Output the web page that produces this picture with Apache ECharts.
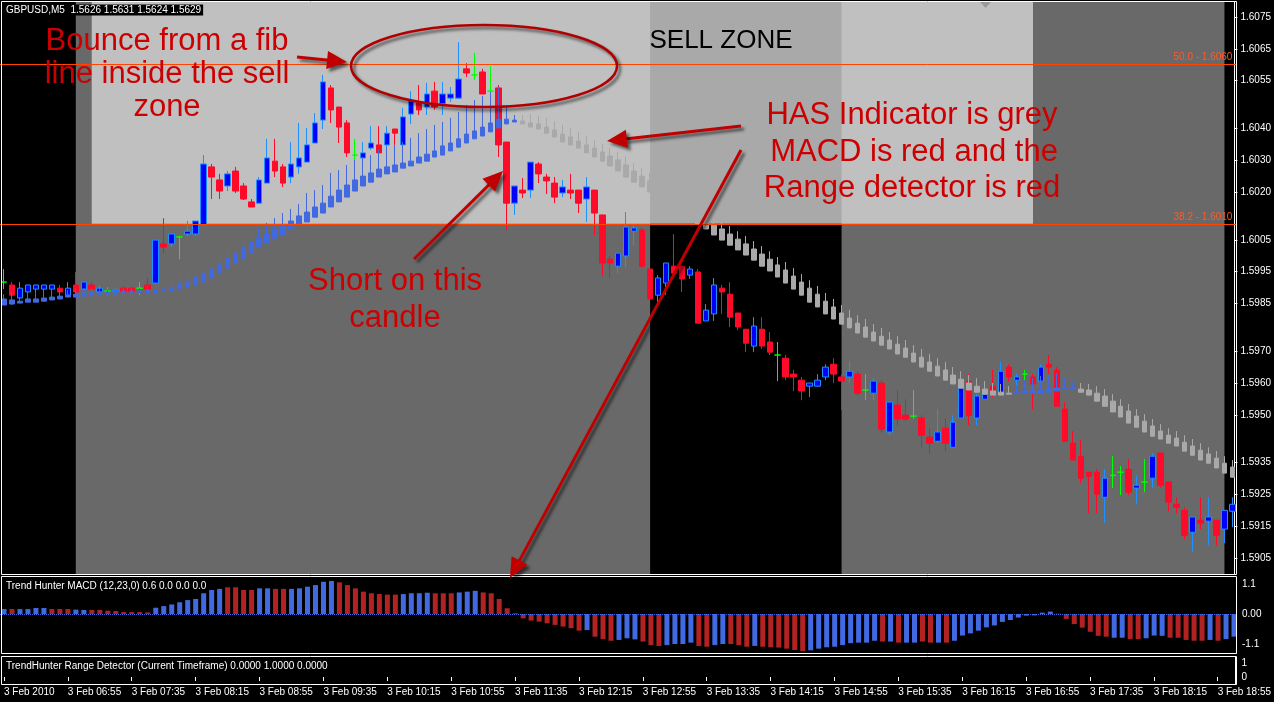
<!DOCTYPE html>
<html><head><meta charset="utf-8">
<script src="https://cdn.jsdelivr.net/npm/echarts@6/dist/echarts.min.js"></script>
<style>html,body{margin:0;padding:0;background:#000;}#c{width:1274px;height:702px;}</style>
</head><body><div id="c"></div>
<script>
// ---------- DATA ----------
const symbolTitle = 'GBPUSD,M5  1.5626 1.5631 1.5624 1.5629';
const macdTitle = 'Trend Hunter MACD (12,23,0) 0.6 0.0 0.0 0.0';
const rangeTitle = 'TrendHunter Range Detector (Current Timeframe) 0.0000 1.0000 0.0000';
const firstDateLabel = '3 Feb 2010';
const dayLabel = '3 Feb';
const firstBarMinutes = 6 * 60 + 15;   // 06:15
const barMinutes = 5;
const barCount = 155;

const priceTicks = [1.6075,1.6065,1.6055,1.6040,1.6030,1.6020,1.6005,1.5995,1.5985,1.5970,1.5960,1.5950,1.5935,1.5925,1.5915,1.5905];
const PRICE_MIN = 1.5900, PRICE_MAX = 1.60797;
const macdTicks = [1.1, 0, -1.1];
const MACD_MIN = -1.429, MACD_MAX = 1.319;
const rangeTicks = [1, 0];

const fibLevels = [1.6060, 1.6010];
const fibNames = ['50.0', '38.2'];
const sellZoneLow = 1.6010;
const sellZoneStartBar = 11, sellZoneEndBar = 129;

const candleOpen = [
1.59917,1.59908,1.59867,1.59886,1.59895,1.59895,1.59895,1.59898,1.59876,1.59908,
1.59895,1.59908,1.59886,1.59889,1.59889,1.59898,1.59898,1.59898,1.59908,1.59914,
1.60037,1.60037,1.60059,1.60068,1.60068,1.60096,1.60279,1.60238,1.60219,1.60266,
1.60219,1.60169,1.60165,1.60228,1.60297,1.60279,1.60247,1.60279,1.60294,1.60354,
1.60426,1.60527,1.60467,1.60417,1.60316,1.60307,1.60338,1.60348,1.60348,1.60398,
1.60348,1.60445,1.60480,1.60467,1.60517,1.60477,1.60495,1.60495,1.60587,1.60568,
1.60577,1.60517,1.60527,1.60357,1.60165,1.60206,1.60206,1.60288,1.60247,1.60228,
1.60197,1.60206,1.60206,1.60178,1.60206,1.60128,1.59989,1.59967,1.59999,1.60077,
1.60081,1.59958,1.59876,1.59914,1.59967,1.59967,1.59939,1.59949,1.59795,1.59817,
1.59898,1.59879,1.59820,1.59769,1.59716,1.59769,1.59729,1.59688,1.59678,1.59628,
1.59609,1.59590,1.59590,1.59619,1.59659,1.59619,1.59619,1.59628,1.59578,1.59568,
1.59600,1.59446,1.59531,1.59499,1.59496,1.59490,1.59430,1.59417,1.59458,1.59398,
1.59490,1.59606,1.59490,1.59549,1.59590,1.59571,1.59650,1.59609,1.59628,1.59619,
1.59606,1.59659,1.59641,1.59518,1.59411,1.59370,1.59320,1.59320,1.59241,1.59310,
1.59320,1.59329,1.59270,1.59289,1.59301,1.59380,1.59289,1.59219,1.59200,1.59131,
1.59169,1.59166,1.59169,1.59141,1.59197];
const candleClose = [
1.59917,1.59876,1.59898,1.59908,1.59908,1.59908,1.59908,1.59886,1.59898,1.59886,
1.59917,1.59895,1.59898,1.59889,1.59892,1.59886,1.59886,1.59898,1.59895,1.60049,
1.60027,1.60068,1.60059,1.60077,1.60109,1.60288,1.60247,1.60203,1.60257,1.60203,
1.60178,1.60153,1.60238,1.60307,1.60266,1.60228,1.60288,1.60307,1.60348,1.60417,
1.60546,1.60458,1.60404,1.60323,1.60316,1.60323,1.60354,1.60323,1.60385,1.60385,
1.60436,1.60486,1.60458,1.60508,1.60467,1.60508,1.60508,1.60555,1.60574,1.60568,
1.60508,1.60517,1.60348,1.60165,1.60219,1.60197,1.60294,1.60257,1.60235,1.60184,
1.60216,1.60197,1.60165,1.60216,1.60134,1.59977,1.59977,1.60008,1.60090,1.60087,
1.59967,1.59864,1.59930,1.59977,1.59945,1.59927,1.59958,1.59788,1.59829,1.59908,
1.59886,1.59807,1.59776,1.59725,1.59779,1.59716,1.59697,1.59688,1.59619,1.59619,
1.59575,1.59600,1.59609,1.59650,1.59628,1.59606,1.59637,1.59568,1.59578,1.59606,
1.59455,1.59540,1.59487,1.59487,1.59496,1.59436,1.59411,1.59446,1.59411,1.59477,
1.59584,1.59499,1.59559,1.59565,1.59575,1.59637,1.59619,1.59619,1.59628,1.59597,
1.59650,1.59650,1.59527,1.59417,1.59358,1.59301,1.59307,1.59251,1.59301,1.59310,
1.59320,1.59257,1.59279,1.59289,1.59370,1.59279,1.59226,1.59210,1.59122,1.59179,
1.59160,1.59179,1.59122,1.59200,1.59219];
const candleLow = [
1.59895,1.59845,1.59854,1.59857,1.59861,1.59870,1.59873,1.59870,1.59870,1.59870,
1.59892,1.59876,1.59883,1.59876,1.59883,1.59883,1.59883,1.59876,1.59883,1.59883,
1.60008,1.60027,1.59989,1.60059,1.60062,1.60096,1.60178,1.60178,1.60203,1.60197,
1.60175,1.60153,1.60165,1.60228,1.60247,1.60216,1.60228,1.60257,1.60294,1.60354,
1.60398,1.60417,1.60354,1.60310,1.60294,1.60294,1.60332,1.60323,1.60338,1.60348,
1.60348,1.60414,1.60442,1.60442,1.60458,1.60442,1.60483,1.60495,1.60561,1.60552,
1.60508,1.60508,1.60310,1.60081,1.60128,1.60181,1.60181,1.60228,1.60194,1.60165,
1.60184,1.60178,1.60134,1.60106,1.60065,1.59936,1.59930,1.59945,1.59964,1.60033,
1.59964,1.59864,1.59854,1.59876,1.59945,1.59886,1.59927,1.59788,1.59795,1.59795,
1.59817,1.59776,1.59766,1.59697,1.59697,1.59707,1.59688,1.59606,1.59609,1.59575,
1.59546,1.59556,1.59590,1.59609,1.59600,1.59515,1.59600,1.59559,1.59546,1.59546,
1.59446,1.59436,1.59468,1.59480,1.59487,1.59398,1.59377,1.59411,1.59386,1.59398,
1.59490,1.59468,1.59468,1.59549,1.59556,1.59571,1.59606,1.59571,1.59609,1.59518,
1.59606,1.59628,1.59527,1.59417,1.59358,1.59285,1.59191,1.59191,1.59160,1.59270,
1.59248,1.59248,1.59219,1.59257,1.59270,1.59270,1.59197,1.59191,1.59109,1.59069,
1.59141,1.59090,1.59090,1.59097,1.59147];
const candleHigh = [
1.59958,1.59917,1.59917,1.59908,1.59908,1.59908,1.59908,1.59908,1.59917,1.59949,
1.59917,1.59917,1.59908,1.59901,1.59898,1.59905,1.59901,1.59917,1.59930,1.60049,
1.60118,1.60068,1.60059,1.60109,1.60109,1.60316,1.60288,1.60257,1.60266,1.60279,
1.60228,1.60178,1.60247,1.60367,1.60367,1.60288,1.60357,1.60417,1.60401,1.60448,
1.60568,1.60536,1.60467,1.60426,1.60367,1.60357,1.60407,1.60407,1.60407,1.60398,
1.60464,1.60517,1.60536,1.60543,1.60546,1.60546,1.60530,1.60671,1.60605,1.60637,
1.60587,1.60596,1.60536,1.60357,1.60219,1.60244,1.60294,1.60294,1.60257,1.60247,
1.60238,1.60257,1.60206,1.60247,1.60206,1.60128,1.59999,1.60008,1.60137,1.60096,
1.60087,1.59958,1.59939,1.59977,1.60068,1.59967,1.59967,1.59958,1.59848,1.59930,
1.59908,1.59917,1.59820,1.59769,1.59807,1.59807,1.59760,1.59729,1.59688,1.59641,
1.59619,1.59600,1.59628,1.59659,1.59678,1.59628,1.59669,1.59637,1.59628,1.59615,
1.59609,1.59540,1.59578,1.59549,1.59578,1.59499,1.59458,1.59518,1.59490,1.59499,
1.59600,1.59628,1.59565,1.59581,1.59641,1.59666,1.59659,1.59628,1.59641,1.59628,
1.59659,1.59688,1.59650,1.59540,1.59449,1.59421,1.59320,1.59329,1.59329,1.59370,
1.59339,1.59361,1.59310,1.59361,1.59380,1.59380,1.59289,1.59241,1.59210,1.59179,
1.59241,1.59241,1.59169,1.59200,1.59241];

// Heiken Ashi Smoothed (HAS) indicator: body low, body high, upper wick
const hasLow = [
1.59845,1.59848,1.59851,1.59854,1.59854,1.59857,1.59861,1.59864,1.59870,1.59870,
1.59873,1.59876,1.59879,1.59879,1.59879,1.59883,1.59883,1.59883,1.59883,1.59883,
1.59889,1.59889,1.59895,1.59901,1.59908,1.59917,1.59930,1.59945,1.59961,1.59977,
1.59989,1.60008,1.60027,1.60040,1.60055,1.60065,1.60084,1.60096,1.60106,1.60121,
1.60134,1.60153,1.60169,1.60184,1.60203,1.60219,1.60231,1.60247,1.60257,1.60263,
1.60275,1.60282,1.60291,1.60297,1.60310,1.60316,1.60329,1.60341,1.60354,1.60367,
1.60376,1.60389,1.60401,1.60414,1.60420,1.60414,1.60404,1.60398,1.60385,1.60373,
1.60357,1.60348,1.60338,1.60323,1.60310,1.60297,1.60282,1.60266,1.60247,1.60231,
1.60216,1.60200,1.60184,1.60169,1.60153,1.60137,1.60118,1.60099,1.60084,1.60065,
1.60049,1.60033,1.60018,1.60002,1.59986,1.59967,1.59952,1.59933,1.59914,1.59895,
1.59876,1.59854,1.59839,1.59817,1.59801,1.59785,1.59773,1.59757,1.59744,1.59732,
1.59719,1.59707,1.59691,1.59681,1.59666,1.59650,1.59637,1.59622,1.59609,1.59597,
1.59584,1.59578,1.59571,1.59565,1.59562,1.59562,1.59565,1.59568,1.59568,1.59568,
1.59568,1.59571,1.59575,1.59581,1.59581,1.59571,1.59562,1.59543,1.59527,1.59509,
1.59493,1.59474,1.59461,1.59446,1.59433,1.59424,1.59411,1.59402,1.59386,1.59373,
1.59358,1.59348,1.59333,1.59317,1.59304];
const hasHigh = [
1.59864,1.59861,1.59857,1.59864,1.59864,1.59867,1.59870,1.59873,1.59876,1.59879,
1.59883,1.59886,1.59886,1.59886,1.59886,1.59889,1.59889,1.59889,1.59892,1.59892,
1.59895,1.59901,1.59914,1.59920,1.59933,1.59945,1.59958,1.59974,1.59993,1.60008,
1.60027,1.60043,1.60055,1.60068,1.60084,1.60093,1.60109,1.60125,1.60137,1.60153,
1.60165,1.60187,1.60206,1.60222,1.60238,1.60250,1.60260,1.60272,1.60279,1.60285,
1.60291,1.60297,1.60310,1.60319,1.60329,1.60345,1.60354,1.60367,1.60382,1.60392,
1.60404,1.60417,1.60429,1.60429,1.60426,1.60423,1.60417,1.60414,1.60404,1.60395,
1.60382,1.60373,1.60360,1.60348,1.60338,1.60326,1.60313,1.60301,1.60285,1.60266,
1.60250,1.60235,1.60219,1.60200,1.60184,1.60165,1.60150,1.60131,1.60112,1.60096,
1.60084,1.60068,1.60052,1.60037,1.60021,1.60005,1.59989,1.59971,1.59955,1.59936,
1.59917,1.59898,1.59879,1.59857,1.59839,1.59820,1.59804,1.59788,1.59776,1.59760,
1.59747,1.59735,1.59722,1.59710,1.59694,1.59681,1.59666,1.59653,1.59641,1.59625,
1.59612,1.59600,1.59590,1.59581,1.59575,1.59571,1.59568,1.59571,1.59575,1.59575,
1.59578,1.59581,1.59584,1.59584,1.59587,1.59581,1.59578,1.59568,1.59559,1.59543,
1.59527,1.59512,1.59496,1.59480,1.59465,1.59449,1.59436,1.59427,1.59414,1.59402,
1.59389,1.59377,1.59364,1.59348,1.59336];
const hasWick = [
1.59879,1.59886,1.59870,1.59886,1.59886,1.59889,1.59892,1.59895,1.59892,1.59898,
1.59898,1.59898,1.59898,1.59895,1.59895,1.59898,1.59898,1.59898,1.59905,1.59914,
1.59914,1.59923,1.59945,1.59945,1.59952,1.59967,1.59986,1.60005,1.60021,1.60040,
1.60059,1.60074,1.60087,1.60103,1.60118,1.60134,1.60147,1.60162,1.60197,1.60206,
1.60222,1.60260,1.60269,1.60285,1.60301,1.60310,1.60316,1.60332,1.60341,1.60348,
1.60357,1.60370,1.60385,1.60398,1.60411,1.60420,1.60433,1.60451,1.60473,1.60489,
1.60502,1.60514,1.60530,1.60467,1.60442,1.60442,1.60445,1.60439,1.60433,1.60423,
1.60411,1.60401,1.60389,1.60376,1.60363,1.60351,1.60338,1.60326,1.60310,1.60291,
1.60275,1.60260,1.60244,1.60225,1.60209,1.60191,1.60175,1.60156,1.60137,1.60121,
1.60109,1.60093,1.60077,1.60062,1.60046,1.60030,1.60014,1.59996,1.59980,1.59961,
1.59942,1.59923,1.59905,1.59883,1.59864,1.59845,1.59829,1.59813,1.59801,1.59785,
1.59773,1.59760,1.59747,1.59735,1.59719,1.59707,1.59691,1.59678,1.59666,1.59650,
1.59637,1.59625,1.59615,1.59606,1.59600,1.59597,1.59590,1.59593,1.59609,1.59615,
1.59622,1.59625,1.59631,1.59619,1.59606,1.59600,1.59597,1.59590,1.59581,1.59565,
1.59549,1.59534,1.59518,1.59502,1.59487,1.59471,1.59458,1.59449,1.59436,1.59424,
1.59411,1.59398,1.59386,1.59370,1.59358];
const hasTrendRuns = [['u',65],['d',62],['u',8],['d',20]];

const macdValues = [
0.18,0.18,0.18,0.18,0.22,0.22,0.18,0.18,0.18,0.16,
0.15,0.15,0.15,0.12,0.11,0.07,0.07,0.07,0.06,0.23,
0.29,0.35,0.43,0.51,0.55,0.76,0.88,0.92,0.98,0.98,
0.88,0.88,0.94,0.94,0.92,0.92,0.92,0.94,1.00,1.06,
1.18,1.21,1.16,1.06,0.94,0.82,0.76,0.73,0.71,0.71,
0.73,0.76,0.76,0.78,0.76,0.76,0.76,0.79,0.82,0.85,
0.79,0.76,0.55,0.21,0.02,-0.16,-0.24,-0.28,-0.34,-0.40,
-0.46,-0.52,-0.61,-0.59,-0.83,-0.92,-0.98,-0.95,-0.89,-0.93,
-1.01,-1.14,-1.17,-1.14,-1.10,-1.10,-1.05,-1.17,-1.20,-1.14,
-1.10,-1.10,-1.14,-1.20,-1.17,-1.20,-1.22,-1.23,-1.27,-1.32,
-1.36,-1.33,-1.27,-1.22,-1.20,-1.14,-1.07,-1.05,-1.05,-0.98,
-1.01,-1.01,-1.05,-1.05,-1.05,-1.01,-1.05,-1.05,-1.05,-0.98,
-0.79,-0.71,-0.61,-0.49,-0.42,-0.29,-0.22,-0.13,-0.06,-0.05,
0.05,0.09,0.01,-0.18,-0.37,-0.50,-0.65,-0.80,-0.83,-0.87,
-0.87,-0.92,-0.92,-0.89,-0.79,-0.80,-0.87,-0.87,-0.95,-0.98,
-0.98,-0.95,-0.98,-0.92,-0.83];
const macdColorRuns = [['b',1],['r',1],['b',4],['r',3],['b',2],['r',8],['b',9],['r',4],['b',2],['r',2],['b',6],['r',8],['b',4],['r',3],['b',3],['r',4],['b',1],['r',8],['b',1],['r',3],['b',3],['r',3],['b',4],['r',2],['b',2],['r',3],['b',1],['r',6],['b',9],['r',1],['b',1],['r',1],['b',2],['r',2],['b',1],['r',1],['b',14],['r',6],['b',2],['r',2],['b',3],['r',5],['b',1],['r',1],['b',2]];
// Range detector state per bar (1 = ranging / grey background)
const rangeRuns = [[0,9],[1,72],[0,24],[1,48],[0,2]];

// ---------- BUILD ----------
function expand(runs){ const out=[]; runs.forEach(([v,n])=>{for(let i=0;i<n;i++) out.push(v);}); return out; }
const hasTrend = expand(hasTrendRuns);
const macdColors = expand(macdColorRuns);
const rangeFlags = expand(rangeRuns);

const categories = [];
for (let i = 0; i < barCount; i++) {
  const m = firstBarMinutes + barMinutes * i;
  categories.push(dayLabel + ' ' + String(Math.floor(m / 60)).padStart(2, '0') + ':' + String(m % 60).padStart(2, '0'));
}

const FONT = "'Liberation Sans', Arial, sans-serif";
const BULL_FILL = '#0000ff', BULL_LINE = '#1e90ff', BEAR = '#ff0a28', DOJI = '#00ff00';
const HAS_UP = '#4169e1', HAS_DOWN = '#a9a9a9';
const MACD_UP = '#4169e1', MACD_DOWN = '#b22222';
const RANGE_GREY = '#696969';
const NOTE_RED = '#cc0000', ARROW_RED = '#c00000';

const candleData = candleOpen.map((o, i) => {
  const item = { value: [o, candleClose[i], candleLow[i], candleHigh[i]] };
  if (o === candleClose[i]) item.itemStyle = { color: DOJI, color0: DOJI, borderColor: DOJI, borderColor0: DOJI };
  return item;
});
const hasData = hasLow.map((lo, i) => {
  const c = hasTrend[i] === 'u' ? HAS_UP : HAS_DOWN;
  return { value: [lo, hasHigh[i], lo, hasWick[i]], itemStyle: { color: c, color0: c, borderColor: c, borderColor0: c } };
});
const macdData = macdValues.map((v, i) => ({ value: v, itemStyle: { color: macdColors[i] === 'b' ? MACD_UP : MACD_DOWN } }));
// range-detector background: each ranging stretch drawn from its first bar's centre to the centre of the bar after it
const rangeAreas = [];
for (let i = 0; i < rangeFlags.length; i++) {
  if (rangeFlags[i] && (i === 0 || !rangeFlags[i - 1])) {
    let j = i; while (j + 1 < rangeFlags.length && rangeFlags[j + 1]) j++;
    rangeAreas.push([{ xAxis: categories[i] }, { xAxis: categories[Math.min(j + 1, barCount - 1)] }]);
  }
}

// ---------- ANNOTATION HELPERS ----------
const shadow = { shadowBlur: 3, shadowColor: 'rgba(0,0,0,0.55)', shadowOffsetX: 3, shadowOffsetY: 3 };
function arrow(x1, y1, x2, y2) {
  const dx = x2 - x1, dy = y2 - y1, L = Math.hypot(dx, dy), ux = dx / L, uy = dy / L;
  const hl = 20, hw = 9, bx = x2 - ux * hl, by = y2 - uy * hl, px = -uy, py = ux;
  return [
    { type: 'line', z: 100, silent: true, shape: { x1, y1, x2: bx + ux * 2, y2: by + uy * 2 }, style: Object.assign({ stroke: ARROW_RED, lineWidth: 3 }, shadow) },
    { type: 'polygon', z: 100, silent: true, shape: { points: [[x2, y2], [bx + px * hw, by + py * hw], [bx - px * hw, by - py * hw]] }, style: Object.assign({ fill: ARROW_RED }, shadow) }
  ];
}
function note(text, x, y, size, color) {
  return { type: 'text', z: 101, silent: true, style: { text, x, y, fill: color || NOTE_RED, font: size + 'px ' + FONT, textAlign: 'center', textVerticalAlign: 'middle' } };
}
function frame(x, y, w, h) {
  return { type: 'rect', z: 90, silent: true, shape: { x, y, width: w, height: h }, style: { fill: 'none', stroke: '#ffffff', lineWidth: 1 } };
}

const graphics = [
  frame(1.5, 1.5, 1235, 573),
  frame(1.5, 576.5, 1235, 77),
  frame(1.5, 656.5, 1235, 28),
  { type: 'text', z: 96, silent: true, style: { text: symbolTitle, x: 5, y: 10, fill: '#fff', font: '10px ' + FONT, textVerticalAlign: 'middle', backgroundColor: '#000', padding: [1, 2, 0, 1] } },
  { type: 'text', z: 96, silent: true, style: { text: macdTitle, x: 6, y: 586, fill: '#fff', font: '10px ' + FONT, textVerticalAlign: 'middle' } },
  { type: 'text', z: 96, silent: true, style: { text: rangeTitle, x: 6, y: 666, fill: '#fff', font: '10px ' + FONT, textVerticalAlign: 'middle' } },
  { type: 'polygon', z: 96, silent: true, shape: { points: [[980, 2], [991, 2], [985.5, 8]] }, style: { fill: '#9a9a9a' } },
  { type: 'ellipse', z: 100, silent: true, shape: { cx: 484, cy: 66, rx: 133, ry: 41 }, style: Object.assign({ fill: 'none', stroke: '#b00000', lineWidth: 2.5 }, shadow) },
  note('Bounce from a fib', 167, 41, 31),
  note('line inside the sell', 167, 74, 31),
  note('zone', 167, 107, 31),
  note('SELL ZONE', 721, 41, 26, '#000000'),
  note('HAS Indicator is grey', 912, 115, 31),
  note('MACD is red and the', 914, 152, 31),
  note('Range detector is red', 912, 188, 31),
  note('Short on this', 395, 281, 31),
  note('candle', 395, 318, 31)
].concat(arrow(297, 57, 347, 62), arrow(741, 126, 607, 141), arrow(414, 259, 503, 171), arrow(741, 150, 510, 578));

// ---------- OPTION ----------
const chart = echarts.init(document.getElementById('c'), null, { renderer: 'canvas' });
const xBase = { type: 'category', data: categories, boundaryGap: true };
const option = {
  animation: false,
  backgroundColor: '#000000',
  textStyle: { fontFamily: FONT },
  grid: [
    { left: -2, right: 36, top: 2, height: 572 },
    { left: -2, right: 36, top: 578, height: 75 },
    { left: -2, right: 36, top: 657, height: 27 }
  ],
  xAxis: [
    Object.assign({ gridIndex: 0, show: false }, xBase),
    Object.assign({ gridIndex: 1, show: false }, xBase),
    Object.assign({ gridIndex: 2,
      axisLine: { show: false },
      axisTick: { show: true, alignWithLabel: true, length: 4, interval: (i) => i % 8 === 0, lineStyle: { color: '#fff' } },
      axisLabel: { show: true, color: '#fff', fontSize: 10, align: 'left', margin: 3, interval: (i) => i % 8 === 0,
        formatter: (v, i) => i === 0 ? firstDateLabel : v },
      splitLine: { show: false } }, xBase)
  ],
  yAxis: [
    { type: 'value', gridIndex: 0, position: 'right', offset: -2, min: PRICE_MIN, max: PRICE_MAX,
      axisLine: { show: true, lineStyle: { color: '#fff' } },
      axisTick: { show: true, length: 3, customValues: priceTicks, lineStyle: { color: '#fff' } },
      axisLabel: { color: '#fff', fontSize: 10, margin: 6, customValues: priceTicks, formatter: v => v.toFixed(4) },
      splitLine: { show: false } },
    { type: 'value', gridIndex: 1, position: 'right', offset: -2, min: MACD_MIN, max: MACD_MAX,
      axisLine: { show: true, lineStyle: { color: '#fff' } },
      axisTick: { show: false },
      axisLabel: { color: '#fff', fontSize: 10, margin: 6, customValues: macdTicks, formatter: v => v === 0 ? '0.00' : String(v) },
      splitLine: { show: false } },
    { type: 'value', gridIndex: 2, position: 'right', offset: -2, min: -0.5, max: 1.43,
      axisLine: { show: true, lineStyle: { color: '#fff' } },
      axisTick: { show: false },
      axisLabel: { color: '#fff', fontSize: 10, margin: 6, customValues: rangeTicks, formatter: v => String(v) },
      splitLine: { show: false } }
  ],
  series: [
    { type: 'line', name: 'rangeDetector', xAxisIndex: 0, yAxisIndex: 0, data: [], silent: true, z: 0,
      markArea: { silent: true, itemStyle: { color: RANGE_GREY, borderWidth: 0 }, data: rangeAreas } },
    { type: 'line', name: 'sellZone', xAxisIndex: 0, yAxisIndex: 0, data: [], silent: true, z: 1,
      markArea: { silent: true, itemStyle: { color: 'rgba(216,216,216,0.781)', borderWidth: 0 },
        data: [[{ xAxis: categories[sellZoneStartBar], yAxis: sellZoneLow }, { xAxis: categories[sellZoneEndBar], yAxis: PRICE_MAX }]] } },
    { type: 'line', name: 'fib', xAxisIndex: 0, yAxisIndex: 0, data: [], silent: true, z: 5,
      markLine: { silent: true, symbol: ['none', 'none'], precision: 5,
        lineStyle: { color: '#ff4500', width: 1, type: 'solid' },
        label: { show: true, position: 'insideEndTop', distance: [4, 2], color: '#ff5a28', fontSize: 10,
          formatter: p => fibNames[p.dataIndex] + ' - ' + fibLevels[p.dataIndex].toFixed(4) },
        data: fibLevels.map(v => ({ yAxis: v })) } },
    { type: 'candlestick', name: 'GBPUSD', xAxisIndex: 0, yAxisIndex: 0, data: candleData, barWidth: 6, z: 3,
      itemStyle: { color: BULL_FILL, color0: BEAR, borderColor: BULL_LINE, borderColor0: BEAR, borderWidth: 1 } },
    { type: 'candlestick', name: 'HAS', xAxisIndex: 0, yAxisIndex: 0, data: hasData, barWidth: 5, z: 4,
      itemStyle: { borderWidth: 1 } },
    { type: 'bar', name: 'MACD', xAxisIndex: 1, yAxisIndex: 1, data: macdData, barWidth: 5, z: 3,
      markLine: { silent: true, symbol: ['none', 'none'], label: { show: false },
        lineStyle: { color: '#4169e1', type: 'dotted', width: 1 }, data: [{ yAxis: 0 }] } }
  ],
  graphic: graphics
};
chart.setOption(option);
</script>
</body></html>
